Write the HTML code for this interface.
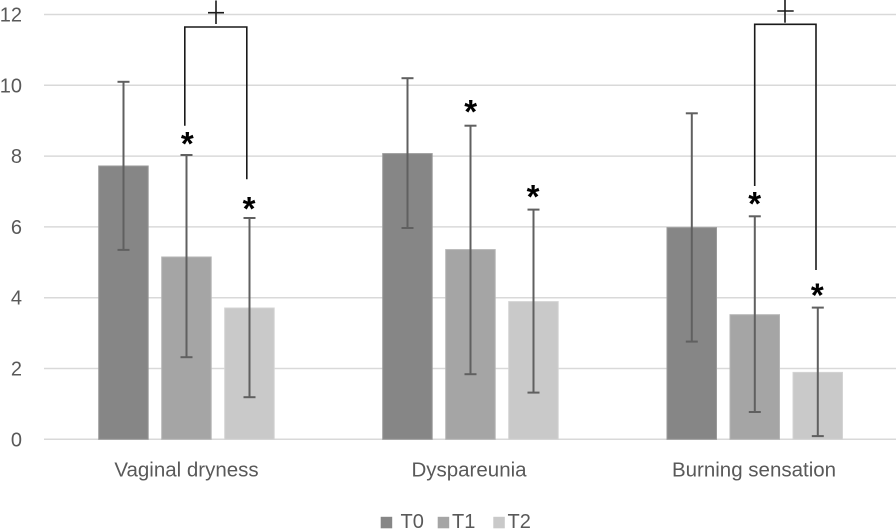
<!DOCTYPE html>
<html>
<head>
<meta charset="utf-8">
<style>
  html, body { margin: 0; padding: 0; background: #ffffff; }
  body { width: 896px; height: 529px; overflow: hidden; }
  svg { display: block; }
  .tick { font-family: "Liberation Sans", sans-serif; font-size: 20px; fill: #595959; }
  .cat { font-family: "Liberation Sans", sans-serif; font-size: 20.5px; fill: #595959; }
  .leg { font-family: "Liberation Sans", sans-serif; font-size: 20px; fill: #595959; }
  .ast { font-family: "Liberation Sans", sans-serif; font-size: 33px; font-weight: bold; fill: #000; }
</style>
</head>
<body>
<svg width="896" height="529" viewBox="0 0 896 529" xmlns="http://www.w3.org/2000/svg">
  <!-- gridlines -->
  <g stroke="#d9d9d9" stroke-width="1.5">
    <line x1="44" y1="14.5" x2="896" y2="14.5"/>
    <line x1="44" y1="85.3" x2="896" y2="85.3"/>
    <line x1="44" y1="156.1" x2="896" y2="156.1"/>
    <line x1="44" y1="226.9" x2="896" y2="226.9"/>
    <line x1="44" y1="297.7" x2="896" y2="297.7"/>
    <line x1="44" y1="368.5" x2="896" y2="368.5"/>
    <line x1="44" y1="439.3" x2="896" y2="439.3"/>
  </g>

  <!-- y tick labels -->
  <g class="tick" text-anchor="end">
    <text x="22" y="21.5">12</text>
    <text x="22" y="92.3">10</text>
    <text x="22" y="163.1">8</text>
    <text x="22" y="233.9">6</text>
    <text x="22" y="304.7">4</text>
    <text x="22" y="375.5">2</text>
    <text x="22" y="446.3">0</text>
  </g>

  <!-- bars -->
  <g stroke-width="1">
    <!-- Vaginal dryness -->
    <rect x="98.7" y="166.0" width="49.5" height="273.3" fill="#868686" stroke="#9a9a9a"/>
    <rect x="161.7" y="257.0" width="49.5" height="182.3" fill="#a5a5a5" stroke="#b5b5b5"/>
    <rect x="224.7" y="308.0" width="49.5" height="131.3" fill="#c9c9c9" stroke="#d4d4d4"/>
    <!-- Dyspareunia -->
    <rect x="382.7" y="153.6" width="49.5" height="285.7" fill="#868686" stroke="#9a9a9a"/>
    <rect x="445.7" y="249.6" width="49.5" height="189.7" fill="#a5a5a5" stroke="#b5b5b5"/>
    <rect x="508.7" y="301.6" width="49.5" height="137.7" fill="#c9c9c9" stroke="#d4d4d4"/>
    <!-- Burning sensation -->
    <rect x="667.0" y="227.6" width="49.5" height="211.7" fill="#868686" stroke="#9a9a9a"/>
    <rect x="730.0" y="314.7" width="49.5" height="124.6" fill="#a5a5a5" stroke="#b5b5b5"/>
    <rect x="793.0" y="372.4" width="49.5" height="66.9" fill="#c9c9c9" stroke="#d4d4d4"/>
  </g>

  <!-- error bars -->
  <g stroke="#606060" stroke-width="2" fill="none">
    <!-- Vag T0 -->
    <line x1="123.5" y1="81.8" x2="123.5" y2="249.9"/>
    <line x1="117.5" y1="81.8" x2="129.5" y2="81.8"/>
    <line x1="117.5" y1="249.9" x2="129.5" y2="249.9"/>
    <!-- Vag T1 -->
    <line x1="186.5" y1="155.0" x2="186.5" y2="357.2"/>
    <line x1="180.5" y1="155.0" x2="192.5" y2="155.0"/>
    <line x1="180.5" y1="357.2" x2="192.5" y2="357.2"/>
    <!-- Vag T2 -->
    <line x1="249.5" y1="218.0" x2="249.5" y2="397.2"/>
    <line x1="243.5" y1="218.0" x2="255.5" y2="218.0"/>
    <line x1="243.5" y1="397.2" x2="255.5" y2="397.2"/>
    <!-- Dys T0 -->
    <line x1="407.5" y1="78.2" x2="407.5" y2="228.0"/>
    <line x1="401.5" y1="78.2" x2="413.5" y2="78.2"/>
    <line x1="401.5" y1="228.0" x2="413.5" y2="228.0"/>
    <!-- Dys T1 -->
    <line x1="470.5" y1="125.7" x2="470.5" y2="374.2"/>
    <line x1="464.5" y1="125.7" x2="476.5" y2="125.7"/>
    <line x1="464.5" y1="374.2" x2="476.5" y2="374.2"/>
    <!-- Dys T2 -->
    <line x1="533.5" y1="209.6" x2="533.5" y2="392.6"/>
    <line x1="527.5" y1="209.6" x2="539.5" y2="209.6"/>
    <line x1="527.5" y1="392.6" x2="539.5" y2="392.6"/>
    <!-- Burn T0 -->
    <line x1="691.8" y1="113.3" x2="691.8" y2="341.6"/>
    <line x1="685.8" y1="113.3" x2="697.8" y2="113.3"/>
    <line x1="685.8" y1="341.6" x2="697.8" y2="341.6"/>
    <!-- Burn T1 -->
    <line x1="754.8" y1="216.3" x2="754.8" y2="412.0"/>
    <line x1="748.8" y1="216.3" x2="760.8" y2="216.3"/>
    <line x1="748.8" y1="412.0" x2="760.8" y2="412.0"/>
    <!-- Burn T2 -->
    <line x1="817.8" y1="307.6" x2="817.8" y2="436.1"/>
    <line x1="811.8" y1="307.6" x2="823.8" y2="307.6"/>
    <line x1="811.8" y1="436.1" x2="823.8" y2="436.1"/>
  </g>

  <!-- significance brackets -->
  <g stroke="#1a1a1a" stroke-width="1.6" fill="none">
    <polyline points="184.8,125.7 184.8,27 246.8,27 246.8,179.3"/>
    <line x1="216" y1="0.5" x2="216" y2="24"/>
    <line x1="208" y1="12.7" x2="224" y2="12.7"/>
    <polyline points="754.7,186 754.7,24.3 816,24.3 816,270"/>
    <line x1="785" y1="0" x2="785" y2="22.7"/>
    <line x1="777.3" y1="11" x2="793.7" y2="11"/>
  </g>

  <!-- asterisks -->
  <g class="ast" text-anchor="middle">
    <text x="187.3" y="154.9">*</text>
    <text x="249" y="219.9">*</text>
    <text x="470.7" y="123.2">*</text>
    <text x="533" y="208.2">*</text>
    <text x="754.7" y="214.9">*</text>
    <text x="817.3" y="306.5">*</text>
  </g>

  <!-- category labels -->
  <g class="cat" text-anchor="middle">
    <text x="186.5" y="476.7">Vaginal dryness</text>
    <text x="469" y="476.7">Dyspareunia</text>
    <text x="754" y="476.7">Burning sensation</text>
  </g>

  <!-- legend -->
  <rect x="380.7" y="516.8" width="11.5" height="11.5" fill="#868686"/>
  <text class="leg" x="400.5" y="528">T0</text>
  <rect x="437.7" y="516.8" width="11.5" height="11.5" fill="#a5a5a5"/>
  <text class="leg" x="452" y="528">T1</text>
  <rect x="493.3" y="516.8" width="11.5" height="11.5" fill="#c9c9c9"/>
  <text class="leg" x="507.5" y="528">T2</text>
</svg>
</body>
</html>
